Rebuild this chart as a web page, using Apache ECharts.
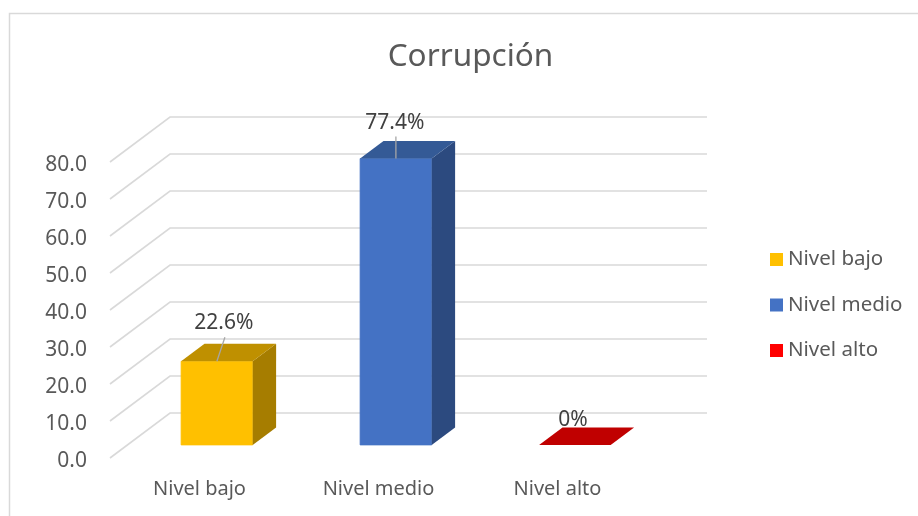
<!DOCTYPE html>
<html>
<head>
<meta charset="utf-8">
<script src="https://cdn.jsdelivr.net/npm/echarts@6/dist/echarts.min.js"></script>
<style>
html,body{margin:0;padding:0;background:#fff;}
#c{width:918px;height:516px;}
</style>
</head>
<body>
<div id="c"></div>
<script>
// ---- data ----
const titleText = 'Corrupción';
const categories = ['Nivel bajo', 'Nivel medio', 'Nivel alto'];
const values = [22.6, 77.4, 0];
const yTicks = [0, 10, 20, 30, 40, 50, 60, 70, 80];

// ---- style ----
const frontColors = ['#FFC000', '#4472C4', '#FF0000'];
const topColors = ['#BF9000', '#345A96', '#C00000'];
const sideColors = ['#A67D00', '#2C4A7F', '#A60000'];
const depthX = 60, depthY = 45;      // floor depth in px
const frontFrac = 0.29, backFrac = 0.68;
const barRatio = 0.4;
const labelNudge = [[7, -38], [-1, -36], [-2, -25]];
const textGray = '#595959';
const font = 'Noto Sans';

function fmtPct(v) { return v === 0 ? '0%' : v.toFixed(1) + '%'; }

function renderBar(params, api) {
  const i = api.value(0), v = api.value(1);
  const base = api.coord([i, 0]);
  const top = api.coord([i, v]);
  const band = api.size([1, 0])[0];
  const hw = band * barRatio / 2;
  const fx = depthX * frontFrac, fy = depthY * frontFrac;
  const dx = depthX * (backFrac - frontFrac), dy = depthY * (backFrac - frontFrac);
  const cx = base[0] + fx;
  const yb = base[1] - fy, yt = top[1] - fy;
  const L = cx - hw, R = cx + hw;
  const children = [];
  if (yb - yt > 0.5) {
    children.push({
      type: 'rect', shape: { x: L, y: yt, width: 2 * hw, height: yb - yt },
      style: { fill: frontColors[i], stroke: frontColors[i], lineWidth: 0.8, opacity: 1 }
    });
    children.push({
      type: 'polygon', shape: { points: [[R, yb], [R, yt], [R + dx, yt - dy], [R + dx, yb - dy]] },
      style: { fill: sideColors[i] }
    });
  }
  children.push({
    type: 'polygon', shape: { points: [[L, yt], [R, yt], [R + dx, yt - dy], [L + dx, yt - dy]] },
    style: { fill: topColors[i] }
  });
  const lx = cx + labelNudge[i][0], ly = yt + labelNudge[i][1];
  if (v > 0) {
    children.push({
      type: 'line', shape: { x1: lx + 1, y1: ly + 14, x2: cx, y2: yt },
      style: { stroke: '#a6a6a6', lineWidth: 1.3 }
    });
  }
  children.push({
    type: 'text', x: lx, y: ly,
    style: { text: fmtPct(v), fill: '#404040', font: '21px "' + font + '"', align: 'center', verticalAlign: 'middle' }
  });
  return { type: 'group', children: children };
}

function renderWall(params, api) {
  const v = api.value(1);
  const cs = params.coordSys;
  const y = api.coord([0, v])[1];
  const left = cs.x, right = cs.x + cs.width;
  return {
    type: 'group',
    children: [{
      type: 'polyline',
      shape: { points: [[left, y], [left + depthX, y - depthY], [right + depthX, y - depthY]] },
      style: { stroke: '#d9d9d9', lineWidth: 1.6, fill: null }
    }, {
      type: 'text', x: left - 23, y: y + 3,
      style: { text: v.toFixed(1), fill: textGray, font: '21px "' + font + '"', align: 'right', verticalAlign: 'middle' }
    }]
  };
}

const chart = echarts.init(document.getElementById('c'), null, { renderer: 'canvas' });

const series = [{
  type: 'custom', name: '_walls', z: 1, silent: true,
  renderItem: renderWall,
  data: yTicks.map(t => [0, t]),
  encode: { x: 0, y: 1 }
}];
categories.forEach((c, i) => {
  series.push({
    type: 'custom', name: c, z: 5,
    itemStyle: { color: frontColors[i] },
    renderItem: renderBar,
    data: [[i, values[i]]],
    encode: { x: 0, y: 1 }
  });
});

chart.setOption({
  animation: false,
  backgroundColor: '#ffffff',
  textStyle: { fontFamily: font },
  graphic: [
    { type: 'rect', left: 7, top: 11, shape: { x: 0, y: 0, width: 1000, height: 1000 },
      style: { fill: null, stroke: '#d9d9d9', lineWidth: 1.5 }, silent: true, z: 0 },
    { type: 'text', x: 470.5, y: 57.5, z: 10,
      style: { text: titleText, fill: textGray, font: '31.5px "' + font + '"', align: 'center', verticalAlign: 'middle' } }
  ],
  legend: {
    orient: 'vertical', left: 770, top: 249, padding: 0,
    itemWidth: 13, itemHeight: 13, itemGap: 24.5,
    icon: 'rect', selectedMode: false,
    data: categories,
    textStyle: { fontSize: 20.5, color: textGray, fontFamily: font }
  },
  grid: { left: 110, right: 271, top: 162, bottom: 58, containLabel: false },
  xAxis: {
    type: 'category', data: categories,
    axisLine: { show: false }, axisTick: { show: false }, splitLine: { show: false },
    axisLabel: { fontSize: 20, color: textGray, margin: 21, fontFamily: font }
  },
  yAxis: {
    type: 'value', min: 0, max: 80, interval: 10,
    axisLine: { show: false }, axisTick: { show: false }, splitLine: { show: false },
    axisLabel: { show: false }
  },
  series: series
});
</script>
</body>
</html>
